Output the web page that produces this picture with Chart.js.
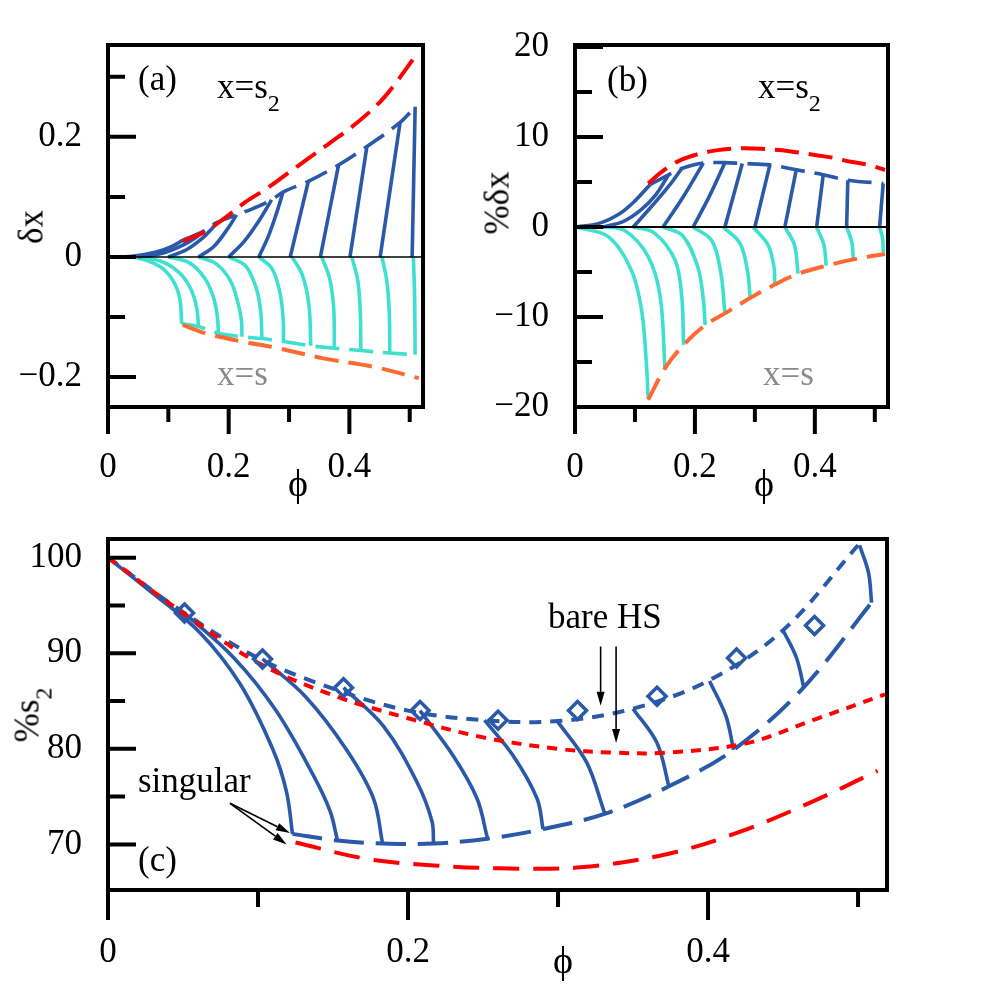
<!DOCTYPE html>
<html>
<head>
<meta charset="utf-8">
<title>delta x and s2 vs packing fraction</title>
<script src="https://cdn.jsdelivr.net/npm/chart.js@4.4.1/dist/chart.umd.min.js"></script>
<style>
  body { margin: 0; background: #fff; }
  #wrap { position: relative; width: 990px; height: 990px; overflow: hidden; background: #fff;
          font-family: "Liberation Serif", "Times New Roman", serif; }
  canvas { position: absolute; }
  .t { position: absolute; font-size: 35px; line-height: 35px; white-space: nowrap; color: #000; }
  .t sub { font-size: 24px; line-height: 0; vertical-align: -13px; }
  .phi { font-size: 38px; }
  .gray { color: #8a8a8a; }
  .rot { transform: translate(-50%, -50%) rotate(-90deg); }
</style>
</head>
<body>
<div id="wrap">
  <canvas id="chartA" width="440" height="510" style="left:0;top:0"></canvas>
  <canvas id="chartB" width="450" height="510" style="left:460px;top:0"></canvas>
  <canvas id="chartC" width="910" height="490" style="left:0;top:500px"></canvas>

  <div class="t" style="left:138px;top:61px">(a)</div>
  <div class="t" style="left:217px;top:69px">x=s<sub>2</sub></div>
  <div class="t gray" style="left:217px;top:356px">x=s</div>
  <div class="t rot" style="left:31px;top:227px">δx</div>
  <div class="t phi" style="left:288px;top:466px">ϕ</div>

  <div class="t" style="left:607px;top:62px">(b)</div>
  <div class="t" style="left:758px;top:69px">x=s<sub>2</sub></div>
  <div class="t gray" style="left:763px;top:356px">x=s</div>
  <div class="t rot" style="left:497px;top:203px">%δx</div>
  <div class="t phi" style="left:754px;top:466px">ϕ</div>

  <div class="t" style="left:548px;top:599px">bare HS</div>
  <div class="t" style="left:138px;top:763px">singular</div>
  <div class="t" style="left:138px;top:842px">(c)</div>
  <div class="t rot" style="left:27px;top:715px">%s<sub>2</sub></div>
  <div class="t phi" style="left:553px;top:943px">ϕ</div>
</div>

<script>
// ---- ticks ----
const PHI_MAJOR = [0, 0.2, 0.4];
const PHI_MINOR = [0.1, 0.3, 0.5];
const A_Y_MAJOR = [-0.2, 0, 0.2];
const A_Y_MINOR = [-0.1, 0.1, 0.3];
const B_Y_MAJOR = [-20, -10, 0, 10, 20];
const B_Y_MINOR = [-15, -5, 5, 15];
const C_Y_MAJOR = [70, 80, 90, 100];
const C_Y_MINOR = [75, 85, 95];

const ZERO_LINE = [[0, 0], [0.53, 0]];

// ---- panel (a) : delta x ----
const A_RED_ENV = [[0.124,0.026],[0.161,0.042],[0.195,0.066],[0.227,0.091],[0.263,0.114],[0.296,0.138],[0.332,0.164],[0.368,0.19],[0.412,0.223],[0.457,0.265],[0.515,0.342]];
const A_BLUE_ENV = [[0.124,0.028],[0.157,0.042],[0.18,0.057],[0.213,0.07],[0.241,0.081],[0.271,0.095],[0.29,0.108],[0.332,0.126],[0.382,0.153],[0.429,0.184],[0.484,0.224],[0.509,0.25]];
const A_BLUE_CURVES = [
  [[0,0],[0.04,0.001],[0.08,0.008],[0.105,0.017],[0.124,0.028]],
  [[0.05,0],[0.09,0.006],[0.125,0.02],[0.145,0.032],[0.157,0.042]],
  [[0.1,0],[0.13,0.012],[0.155,0.03],[0.172,0.047],[0.18,0.057]],
  [[0.15,0],[0.175,0.017],[0.197,0.045],[0.213,0.07]],
  [[0.2,0],[0.225,0.025],[0.25,0.06],[0.271,0.095]],
  [[0.25,0],[0.266,0.035],[0.28,0.075],[0.29,0.108]],
  [[0.302,0],[0.332,0.126]],
  [[0.352,0],[0.382,0.153]],
  [[0.401,0],[0.429,0.184]],
  [[0.451,0],[0.484,0.224]],
  [[0.504,0],[0.509,0.25]]
];
const A_TEAL_ENV = [[0.122,-0.111],[0.15,-0.116],[0.183,-0.127],[0.222,-0.133],[0.255,-0.136],[0.291,-0.141],[0.336,-0.148],[0.375,-0.152],[0.419,-0.156],[0.467,-0.16],[0.509,-0.163]];
const A_ORANGE_ENV = [[0.124,-0.113],[0.161,-0.127],[0.222,-0.141],[0.282,-0.152],[0.357,-0.169],[0.44,-0.183],[0.515,-0.202]];
const A_TEAL_CURVES = [
  [[0,0],[0.045,-0.001],[0.086,-0.016],[0.108,-0.04],[0.119,-0.07],[0.122,-0.111]],
  [[0.05,0],[0.09,-0.008],[0.12,-0.028],[0.138,-0.055],[0.147,-0.085],[0.15,-0.116]],
  [[0.1,0],[0.135,-0.01],[0.16,-0.035],[0.174,-0.065],[0.181,-0.097],[0.183,-0.127]],
  [[0.15,0],[0.18,-0.012],[0.203,-0.04],[0.215,-0.075],[0.221,-0.105],[0.222,-0.133]],
  [[0.2,0],[0.228,-0.015],[0.245,-0.05],[0.253,-0.09],[0.255,-0.136]],
  [[0.25,0],[0.272,-0.02],[0.285,-0.06],[0.29,-0.1],[0.291,-0.141]],
  [[0.305,0],[0.322,-0.03],[0.333,-0.08],[0.336,-0.148]],
  [[0.354,0],[0.367,-0.035],[0.374,-0.085],[0.375,-0.152]],
  [[0.404,0],[0.414,-0.04],[0.418,-0.09],[0.419,-0.156]],
  [[0.454,0],[0.462,-0.04],[0.466,-0.09],[0.467,-0.16]],
  [[0.506,0],[0.508,-0.06],[0.509,-0.163]]
];

// ---- panel (b) : % delta x ----
const B_RED_ENV = [[0.122,4.85],[0.15,6.4],[0.175,7.4],[0.2,8.0],[0.225,8.4],[0.25,8.65],[0.28,8.75],[0.31,8.7],[0.34,8.55],[0.37,8.3],[0.4,8.0],[0.43,7.7],[0.46,7.25],[0.49,6.9],[0.517,6.33]];
const B_BLUE_ENV = [[0.125,4.7],[0.156,5.8],[0.178,6.5],[0.214,7.1],[0.25,7.15],[0.279,7.05],[0.325,6.9],[0.369,6.35],[0.414,5.8],[0.455,5.2],[0.514,4.85]];
const B_BLUE_CURVES = [
  [[0,0],[0.04,0.4],[0.075,1.5],[0.1,2.9],[0.125,4.7]],
  [[0.045,0],[0.08,0.6],[0.11,1.9],[0.135,3.6],[0.156,5.8]],
  [[0.097,0],[0.128,2.3],[0.156,4.5],[0.178,6.5]],
  [[0.147,0],[0.18,3.3],[0.214,7.1]],
  [[0.197,0],[0.224,3.4],[0.25,7.15]],
  [[0.25,0],[0.279,7.05]],
  [[0.3,0],[0.325,6.9]],
  [[0.35,0],[0.369,6.35]],
  [[0.403,0],[0.414,5.8]],
  [[0.453,0],[0.455,5.2]],
  [[0.508,0],[0.514,4.85]]
];
const B_ORANGE_ENV = [[0.122,-19.2],[0.15,-15.7],[0.181,-13.1],[0.217,-10.9],[0.25,-9.6],[0.292,-7.9],[0.333,-6.4],[0.372,-5.2],[0.419,-4.3],[0.464,-3.6],[0.517,-3.0]];
const B_TEAL_CURVES = [
  [[0,0],[0.056,-1.1],[0.094,-4.8],[0.111,-9.2],[0.119,-15.1],[0.122,-19.0]],
  [[0.045,0],[0.083,-0.4],[0.122,-3.3],[0.142,-7.7],[0.15,-15.7]],
  [[0.097,0],[0.133,-0.7],[0.167,-3.7],[0.178,-7.7],[0.181,-13.1]],
  [[0.147,0],[0.18,-1.0],[0.205,-4.5],[0.214,-8.0],[0.217,-10.9]],
  [[0.197,0],[0.228,-1.5],[0.243,-5.0],[0.25,-9.6]],
  [[0.247,0],[0.275,-1.8],[0.288,-5.0],[0.292,-7.9]],
  [[0.297,0],[0.322,-2.0],[0.332,-4.5],[0.333,-6.4]],
  [[0.35,0],[0.366,-2.0],[0.372,-5.2]],
  [[0.403,0],[0.415,-2.0],[0.419,-4.3]],
  [[0.453,0],[0.462,-1.8],[0.464,-3.6]],
  [[0.508,0],[0.513,-1.3],[0.514,-2.8]]
];

// ---- panel (c) : % s2 ----
const C_BLUE_DOT = [[0,100],[0.05,94.3],[0.1,89.5],[0.15,86.3],[0.2,84.0],[0.25,83.0],[0.3,82.9],[0.35,84.2],[0.4,87.1],[0.45,92.4],[0.5,101.3]];
const C_RED_DOT = [[0,100],[0.05,94.2],[0.1,89.0],[0.15,85.6],[0.2,83.2],[0.25,81.2],[0.3,80.0],[0.337,79.6],[0.373,79.6],[0.426,80.6],[0.47,83.0],[0.518,85.7]];
const C_BLUE_DASH = [[0.123,71.1],[0.153,70.4],[0.183,70.1],[0.217,70.1],[0.253,70.6],[0.29,71.6],[0.331,73.2],[0.373,76.0],[0.417,79.9],[0.463,86.3],[0.509,95.3]];
const C_RED_DASH = [[0.125,70.2],[0.172,68.5],[0.217,67.8],[0.261,67.5],[0.315,67.6],[0.373,69.0],[0.421,71.3],[0.47,74.5],[0.513,77.7]];
const C_BLUE_CURVES = [
  [[0,100],[0.028,96.5],[0.061,92.2],[0.088,86.8],[0.11,79.9],[0.119,75.5],[0.123,71.1]],
  [[0.051,94.2],[0.084,89.5],[0.112,84.0],[0.137,77.2],[0.148,73.5],[0.153,70.4]],
  [[0.103,89.4],[0.132,85.4],[0.159,79.9],[0.177,74.8],[0.183,70.1]],
  [[0.157,86.4],[0.184,82.3],[0.206,76.5],[0.216,72.4],[0.217,70.1]],
  [[0.208,84.0],[0.23,79.3],[0.246,74.8],[0.253,70.6]],
  [[0.251,83.0],[0.27,79.3],[0.286,74.8],[0.29,71.6]],
  [[0.299,83.0],[0.319,78.6],[0.331,73.3]],
  [[0.35,84.2],[0.366,80.6],[0.374,76.0]],
  [[0.401,87.1],[0.412,83.4],[0.417,79.9]],
  [[0.45,92.4],[0.459,89.5],[0.464,86.3]],
  [[0.501,101.3],[0.507,98.4],[0.509,95.3]]
];
const C_DIAMONDS = [[0.051,94.2],[0.103,89.4],[0.157,86.4],[0.208,84.0],[0.26,83.0],[0.313,84.0],[0.366,85.5],[0.419,89.5],[0.471,92.9]];
// [tail phi, tail s2, head phi, head s2]
const C_ARROWS = [[0.0813,74.3,0.1213,71.2],[0.0813,74.3,0.1191,70.0],[0.3284,90.7,0.3284,84.5],[0.3387,90.7,0.3387,80.6]];

// ---- styles ----
const FONT = '"Liberation Serif", "Times New Roman", serif';
const BLUE = '#2959a8';
const RED = '#ff0000';
const TEAL = '#40e0d0';
const ORANGE = '#ff6a33';
const LW = 3.6;
const DASH = [24, 10];
const DOT = [10, 8];

const curve = (points, color, opts = {}) => ({
  data: points,
  borderColor: color,
  borderWidth: opts.width || LW,
  borderDash: opts.dash || [],
  tension: opts.tension !== undefined ? opts.tension : 0.35,
  pointRadius: 0,
  fill: false
});

const fmt = v => (v < 0 ? '\u2212' + (-v) : String(v));

const framePlugin = {
  id: 'frame',
  afterDatasetsDraw(chart, args, o) {
    const { ctx, chartArea: a } = chart;
    const x = chart.scales.x, y = chart.scales.y;
    ctx.save();
    ctx.strokeStyle = '#000';
    ctx.lineWidth = 4;
    ctx.strokeRect(a.left, a.top, a.right - a.left, a.bottom - a.top);
    ctx.beginPath();
    o.yMajor.forEach(v => { const p = y.getPixelForValue(v); ctx.moveTo(a.left, p); ctx.lineTo(a.left + 28, p); });
    o.yMinor.forEach(v => { const p = y.getPixelForValue(v); ctx.moveTo(a.left, p); ctx.lineTo(a.left + 17, p); });
    o.xMajor.forEach(v => { const p = x.getPixelForValue(v); ctx.moveTo(p, a.bottom); ctx.lineTo(p, a.bottom + o.xTick[0]); });
    o.xMinor.forEach(v => { const p = x.getPixelForValue(v); ctx.moveTo(p, a.bottom); ctx.lineTo(p, a.bottom + o.xTick[1]); });
    ctx.stroke();

    (o.arrows || []).forEach(([x0, y0, x1, y1]) => {
      const px0 = x.getPixelForValue(x0), py0 = y.getPixelForValue(y0);
      const px1 = x.getPixelForValue(x1), py1 = y.getPixelForValue(y1);
      const ang = Math.atan2(py1 - py0, px1 - px0);
      const L = 14, W = 4;
      ctx.lineWidth = 1.6;
      ctx.beginPath();
      ctx.moveTo(px0, py0);
      ctx.lineTo(px1 - L * Math.cos(ang), py1 - L * Math.sin(ang));
      ctx.stroke();
      ctx.fillStyle = '#000';
      ctx.beginPath();
      ctx.moveTo(px1, py1);
      ctx.lineTo(px1 - L * Math.cos(ang) + W * Math.sin(ang), py1 - L * Math.sin(ang) - W * Math.cos(ang));
      ctx.lineTo(px1 - L * Math.cos(ang) - W * Math.sin(ang), py1 - L * Math.sin(ang) + W * Math.cos(ang));
      ctx.closePath();
      ctx.fill();
    });
    ctx.restore();
  }
};

const makePanel = (id, datasets, box, ax) => new Chart(document.getElementById(id), {
  type: 'line',
  data: { datasets },
  options: {
    responsive: false,
    animation: false,
    events: [],
    layout: { padding: box.pad },
    plugins: { legend: { display: false }, tooltip: { enabled: false }, frame: ax },
    scales: {
      x: {
        type: 'linear', min: 0, max: ax.xMax,
        grid: { display: false }, border: { display: false },
        afterBuildTicks: s => { s.ticks = ax.xMajor.map(v => ({ value: v })); },
        afterFit: s => { s.height = box.xh; },
        ticks: { font: { family: FONT, size: 35 }, color: '#000', padding: box.xPad,
                 maxRotation: 0, autoSkip: false, callback: fmt }
      },
      y: {
        type: 'linear', min: ax.yMin, max: ax.yMax,
        grid: { display: false }, border: { display: false },
        afterBuildTicks: s => { s.ticks = ax.yMajor.map(v => ({ value: v })); },
        afterFit: s => { s.width = box.yw; },
        ticks: { font: { family: FONT, size: 35 }, color: '#000', padding: 18, autoSkip: false, callback: fmt }
      }
    }
  },
  plugins: [framePlugin]
});

// (a)
const dsA = [
  curve(ZERO_LINE, '#000', { width: 1.5, tension: 0 }),
  curve(A_RED_ENV, RED, { dash: DASH, width: 4 }),
  curve(A_ORANGE_ENV, ORANGE, { dash: DASH, width: 4 }),
  curve(A_BLUE_ENV, BLUE, { dash: DASH }),
  curve(A_TEAL_ENV, TEAL, { dash: DASH })
]
  .concat(A_BLUE_CURVES.map(c => curve(c, BLUE)))
  .concat(A_TEAL_CURVES.map(c => curve(c, TEAL)));

makePanel('chartA', dsA,
  { pad: { left: 0, top: 45, right: 17, bottom: 0 }, yw: 108, xh: 103, xPad: 32 },
  { xMax: 0.522, yMin: -0.25, yMax: 0.353, xMajor: PHI_MAJOR, xMinor: PHI_MINOR, yMajor: A_Y_MAJOR, yMinor: A_Y_MINOR, xTick: [27, 15] });

// (b)
const dsB = [
  curve(ZERO_LINE, '#000', { width: 2, tension: 0 }),
  curve(B_RED_ENV, RED, { dash: DASH, width: 4 }),
  curve(B_ORANGE_ENV, ORANGE, { dash: DASH, width: 4 }),
  curve(B_BLUE_ENV, BLUE, { dash: DASH })
]
  .concat(B_BLUE_CURVES.map(c => curve(c, BLUE)))
  .concat(B_TEAL_CURVES.map(c => curve(c, TEAL)));

makePanel('chartB', dsB,
  { pad: { left: 0, top: 45, right: 22, bottom: 0 }, yw: 115, xh: 103, xPad: 32 },
  { xMax: 0.522, yMin: -20, yMax: 20.22, xMajor: PHI_MAJOR, xMinor: PHI_MINOR, yMajor: B_Y_MAJOR, yMinor: B_Y_MINOR, xTick: [27, 15] });

// (c)
const dsC = [
  {
    data: C_DIAMONDS, showLine: false, pointStyle: 'rectRot', pointRadius: 9,
    pointBorderWidth: 3.5, pointBorderColor: BLUE, pointBackgroundColor: 'rgba(255,255,255,0)'
  },
  curve(C_RED_DOT, RED, { dash: DOT, width: 4 }),
  curve(C_RED_DASH, RED, { dash: [26, 14], width: 4 }),
  curve(C_BLUE_DOT, BLUE, { dash: [12, 9], width: 4 }),
  curve(C_BLUE_DASH, BLUE, { dash: [30, 12], width: 4 })
].concat(C_BLUE_CURVES.map(c => curve(c, BLUE)));

makePanel('chartC', dsC,
  { pad: { left: 0, top: 32, right: 23, bottom: 0 }, yw: 108, xh: 100, xPad: 34 },
  { xMax: 0.5193, yMin: 65.23, yMax: 101.95, xMajor: PHI_MAJOR, xMinor: PHI_MINOR, yMajor: C_Y_MAJOR, yMinor: C_Y_MINOR, xTick: [30, 17], arrows: C_ARROWS });
</script>
</body>
</html>
